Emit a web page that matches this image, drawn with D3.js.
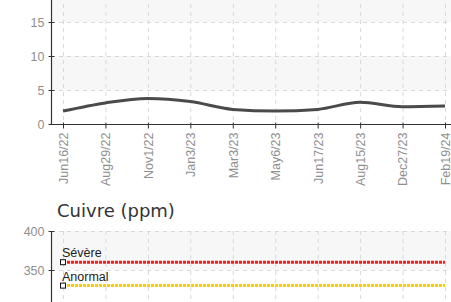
<!DOCTYPE html>
<html>
<head>
<meta charset="utf-8">
<script src="https://cdn.jsdelivr.net/npm/d3@7"></script>
<style>
  html, body { margin: 0; padding: 0; background: #fff; overflow: hidden; }
  svg { display: block; }
</style>
</head>
<body>
<div id="chart"></div>
<script>
const dates = ['Jun16/22', 'Aug29/22', 'Nov1/22', 'Jan3/23', 'Mar3/23', 'May6/23', 'Jun17/23', 'Aug15/23', 'Dec27/23', 'Feb19/24']
const topValues = [1.9, 3.1, 3.75, 3.3, 2.15, 1.9, 2.15, 3.2, 2.55, 2.65]
const topTicks = [0, 5, 10, 15, 20]

const copperTitle = 'Cuivre (ppm)'
const copperTicks = [300, 350, 400]
const limitNames = ['Sévère', 'Anormal']
const limitValues = [360, 330]
const limitColors = ['#ff1a1a', '#ffcc00']

const W = 451, H = 302
const AXIS_X = 51
const RIGHT = 451
const GRID = '#d9d9d9'
const BAND = '#f7f7f7'
const LABEL = '#8f8f8f'
const FONT = "'Liberation Sans', Arial, sans-serif"

const svg = d3.select('#chart').append('svg')
  .attr('width', W).attr('height', H)

const x = d3.scalePoint().domain(dates).range([63, 445])

function drawFrame(g, y, ticks, top, bottom) {
  // alternating bands, counting from the top
  const sorted = ticks.slice().sort((a, b) => b - a)
  for (let i = 0; i < sorted.length - 1; i += 2) {
    g.append('rect')
      .attr('x', AXIS_X).attr('width', RIGHT - AXIS_X)
      .attr('y', y(sorted[i]))
      .attr('height', y(sorted[i + 1]) - y(sorted[i]))
      .attr('fill', BAND)
  }
  // horizontal grid
  g.selectAll('.hgrid').data(ticks).enter().append('line')
    .attr('x1', AXIS_X).attr('x2', RIGHT)
    .attr('y1', d => y(d) + 0.5).attr('y2', d => y(d) + 0.5)
    .attr('stroke', GRID).attr('stroke-dasharray', '4,4')
  // vertical grid
  g.selectAll('.vgrid').data(dates).enter().append('line')
    .attr('x1', d => x(d) + 0.5).attr('x2', d => x(d) + 0.5)
    .attr('y1', top).attr('y2', bottom)
    .attr('stroke', GRID).attr('stroke-dasharray', '4,4')

  // y axis (only labels that are visible in the window)
  const shown = ticks.filter(t => y(t) > 0)
  const ax = g.append('g')
    .attr('transform', `translate(${AXIS_X + 0.5},0)`)
    .call(d3.axisLeft(y).tickValues(shown).tickSize(3).tickPadding(4))
  ax.select('.domain').remove()
  ax.append('line').attr('y1', top).attr('y2', bottom).attr('stroke', '#333').attr('stroke-width', 1.2)
  ax.selectAll('.tick line').attr('x2', 3).attr('x1', -3).attr('stroke', '#333')
  ax.selectAll('.tick text').attr('fill', LABEL).attr('font-size', 12.5).attr('font-family', FONT)
}

// --- top chart ---
const yTop = d3.scaleLinear().domain([0, 20]).range([124, -12])
const gTop = svg.append('g')
drawFrame(gTop, yTop, topTicks, -12, 124)

const line = d3.line()
  .x((d, i) => x(dates[i]))
  .y(d => yTop(d))
  .curve(d3.curveMonotoneX)

gTop.append('path').datum(topValues)
  .attr('d', line)
  .attr('fill', 'none')
  .attr('stroke', '#4a4a4a')
  .attr('stroke-width', 3)

const xAx = gTop.append('g')
  .attr('transform', 'translate(0,124.5)')
  .call(d3.axisBottom(x).tickSize(4).tickPadding(4))
xAx.select('.domain').remove()
xAx.append('line').attr('x1', AXIS_X).attr('x2', RIGHT).attr('stroke', '#333').attr('stroke-width', 1.2)
xAx.selectAll('.tick line').attr('stroke', '#333').attr('y1', -2)
xAx.selectAll('.tick text')
  .attr('fill', LABEL).attr('font-size', 12.5).attr('font-family', FONT)
  .attr('transform', 'rotate(-90)')
  .attr('text-anchor', 'end')
  .attr('x', -8).attr('y', 0).attr('dy', '0.35em')

// --- copper chart ---
svg.append('text')
  .attr('x', 57).attr('y', 217)
  .attr('font-family', "'DejaVu Sans', sans-serif")
  .attr('font-size', 18)
  .attr('fill', '#333')
  .text(copperTitle)

const yCu = d3.scaleLinear().domain([0, 400]).range([543, 231])
const gCu = svg.append('g')
drawFrame(gCu, yCu, copperTicks, 231, H)

limitValues.forEach((v, i) => {
  gCu.append('line')
    .attr('x1', x(dates[0])).attr('x2', x(dates[dates.length - 1]))
    .attr('y1', yCu(v)).attr('y2', yCu(v))
    .attr('stroke', limitColors[i])
    .attr('stroke-width', 3)
    .attr('stroke-dasharray', '3,1')
  gCu.append('rect')
    .attr('x', x(dates[0]) - 2.5).attr('y', yCu(v) - 2.5)
    .attr('width', 5).attr('height', 5)
    .attr('fill', '#fff').attr('stroke', '#111').attr('stroke-width', 1)
  gCu.append('text')
    .attr('x', x(dates[0]) - 1).attr('y', yCu(v) - 5)
    .attr('font-family', FONT)
    .attr('font-size', 12.5).attr('fill', '#222')
    .text(limitNames[i])
})
</script>
</body>
</html>
